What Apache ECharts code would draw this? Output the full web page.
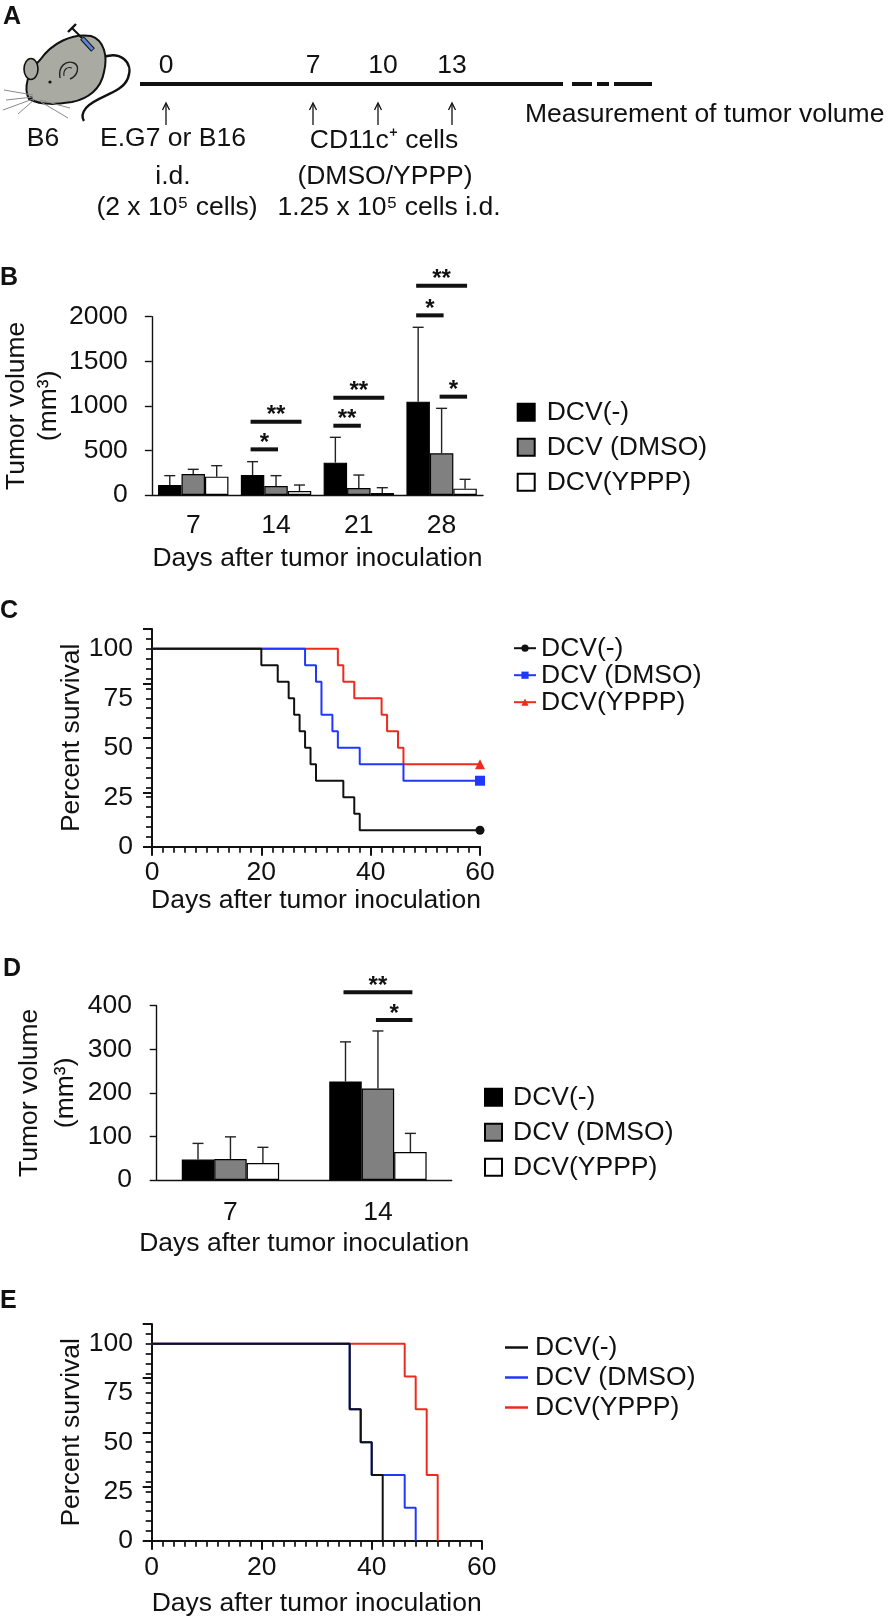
<!DOCTYPE html>
<html>
<head>
<meta charset="utf-8">
<script src="https://cdn.jsdelivr.net/npm/echarts@6/dist/echarts.min.js"></script>
<style>
html, body { margin: 0; padding: 0; background: #fff; }
#fig { width: 888px; height: 1618px; }
</style>
</head>
<body>
<div id="fig"></div>
<script>
// ---- data ----
// B: tumor volume (mm3), mean and SD per day
var bDays = ['7', '14', '21', '28'];
var bNeg = [112, 224, 363, 1047];
var bNegSd = [105, 150, 284, 834];
var bDmso = [236, 101, 79, 467];
var bDmsoSd = [52, 116, 145, 505];
var bYppp = [206, 45, 22, 71];
var bYpppSd = [123, 67, 60, 105];
// [category, bar from, bar to, height, mark]
var bSig = [[1, 0, 1, 512, '*'], [1, 0, 2, 822, '**'], [2, 0, 1, 777, '**'], [2, 0, 2, 1092, '**'],
            [3, 0, 1, 2015, '*'], [3, 0, 2, 2348, '**'], [3, 1, 2, 1103, '*']];

// C: survival (%) after each day
var cNegDays = [0, 20, 23, 25, 26, 27, 28, 29, 30, 35, 37, 38, 60];
var cNegSurv = [100, 91.67, 83.33, 75, 66.67, 58.33, 50, 41.67, 33.33, 25, 16.67, 8.33, 8.33];
var cDmsoDays = [0, 28, 30, 31, 33, 34, 38, 46, 60];
var cDmsoSurv = [100, 91.67, 83.33, 66.67, 58.33, 50, 41.67, 33.33, 33.33];
var cYpppDays = [0, 34, 35, 37, 42, 43, 45, 46, 60];
var cYpppSurv = [100, 91.67, 83.33, 75, 66.67, 58.33, 50, 41.67, 41.67];

// D
var dDays = ['7', '14'];
var dNeg = [47, 226];
var dNegSd = [37, 91];
var dDmso = [48, 210];
var dDmsoSd = [51, 132];
var dYppp = [39, 64];
var dYpppSd = [36, 43];
var dSig = [[1, 0, 2, 431, '**'], [1, 1, 2, 367, '*']];

// E
var eNegDays = [0, 36, 38, 40, 42];
var eNegSurv = [100, 66.67, 50, 33.33, 0];
var eDmsoDays = [0, 36, 38, 40, 46, 48];
var eDmsoSurv = [100, 66.67, 50, 33.33, 16.67, 0];
var eYpppDays = [0, 46, 48, 50, 52];
var eYpppSurv = [100, 83.33, 66.67, 33.33, 0];

// survival axes: labelled ticks
var dayLabels = [0, 20, 40, 60];
var survLabels = [0, 25, 50, 75, 100];

var names = ['DCV(-)', 'DCV (DMSO)', 'DCV(YPPP)'];

// ---- helpers ----
var FONT = '"Liberation Sans", Arial, sans-serif';
var FS = 26.5;
var INK = '#111';

function barCenter(band, gap, k) {
    var total = band * (1 - gap);
    return -total / 2 + (total / 3) * (k + 0.5);
}

function pairs(xs, ys) {
    return xs.map(function (x, i) { return [x, ys[i]]; });
}

function errorSeries(idx, means, sds, k, gap) {
    return {
        type: 'custom', xAxisIndex: idx, yAxisIndex: idx, z: 3, silent: true,
        data: means.map(function (m, i) { return [i, m, m + sds[i]]; }),
        encode: { x: 0, y: 1 },
        renderItem: function (params, api) {
            var band = api.size([1, 0])[0];
            var base = api.coord([api.value(0), api.value(1)]);
            var top = api.coord([api.value(0), api.value(2)]);
            var x = base[0] + barCenter(band, gap, k);
            var st = { stroke: '#222', lineWidth: 1.4 };
            return { type: 'group', children: [
                { type: 'line', shape: { x1: x, y1: base[1], x2: x, y2: top[1] }, style: st },
                { type: 'line', shape: { x1: x - 5.5, y1: top[1], x2: x + 5.5, y2: top[1] }, style: st }
            ] };
        }
    };
}

function sigSeries(idx, list, gap) {
    return {
        type: 'custom', xAxisIndex: idx, yAxisIndex: idx, z: 4, silent: true,
        data: list.map(function (s) { return [s[0], s[3]]; }),
        encode: { x: 0, y: 1 },
        renderItem: function (params, api) {
            var s = list[params.dataIndex];
            var band = api.size([1, 0])[0];
            var c = api.coord([s[0], s[3]]);
            var x1 = c[0] + barCenter(band, gap, s[1]) - 2;
            var x2 = c[0] + barCenter(band, gap, s[2]) + 2;
            return { type: 'group', children: [
                { type: 'line', shape: { x1: x1, y1: c[1], x2: x2, y2: c[1] }, style: { stroke: INK, lineWidth: 4 } },
                { type: 'text', x: (x1 + x2) / 2, y: c[1] - 6,
                  style: { text: s[4], fontFamily: FONT, fontSize: 24, fontWeight: 'bold', fill: INK, align: 'center', verticalAlign: 'middle' } }
            ] };
        }
    };
}

function barSeries(idx, tag, vals, gap) {
    var fills = ['#000', '#808080', '#fff'];
    return vals.map(function (v, k) {
        return {
            name: names[k] + '#' + tag, type: 'bar', xAxisIndex: idx, yAxisIndex: idx,
            barGap: '0%', barCategoryGap: (gap * 100) + '%', data: v,
            itemStyle: { color: fills[k], borderColor: '#000', borderWidth: 1.2 }
        };
    });
}

function kmSeries(idx, tag, k, days, surv, color, symbol, size) {
    var last = days.length - 1;
    return {
        name: names[k] + '#' + tag, type: 'line', xAxisIndex: idx, yAxisIndex: idx,
        step: 'end', symbol: symbol, symbolSize: size,
        lineStyle: { color: color, width: 2 }, itemStyle: { color: color },
        data: pairs(days, surv).map(function (p, i) {
            return (symbol !== 'none' && i === last) ? { value: p } : { value: p, symbol: 'none' };
        })
    };
}

var plain = function (v) { return String(v); };
function only(list) {
    return function (v) { return list.indexOf(v) >= 0 ? String(v) : ''; };
}

function catX(idx, data, margin, gap) {
    return {
        type: 'category', gridIndex: idx, data: data,
        axisLine: { onZero: false, lineStyle: { color: INK, width: 1.4 } },
        axisTick: { length: 8, lineStyle: { color: INK, width: 1.4 } },
        axisLabel: { margin: margin, color: INK, fontFamily: FONT, fontSize: FS },
        name: 'Days after tumor inoculation', nameLocation: 'middle', nameGap: gap,
        nameTextStyle: { color: INK, fontFamily: FONT, fontSize: FS }
    };
}

function volY(idx, max, interval, margin, gap, lh) {
    return {
        type: 'value', gridIndex: idx, min: 0, max: max, interval: interval,
        axisLine: { show: true, lineStyle: { color: INK, width: 1.4 } },
        axisTick: { show: true, length: 7, lineStyle: { color: INK, width: 1.4 } },
        splitLine: { show: false },
        axisLabel: { margin: margin, color: INK, fontFamily: FONT, fontSize: FS, formatter: plain },
        name: 'Tumor volume\n(mm³)', nameLocation: 'middle', nameRotate: 90, nameGap: gap,
        nameTextStyle: { color: INK, fontFamily: FONT, fontSize: FS, lineHeight: lh }
    };
}

// small ticks every 2 days, labels only at dayLabels
function dayX(idx, margin, gap) {
    return {
        type: 'value', gridIndex: idx, min: 0, max: 60, interval: 2,
        axisLine: { onZero: false, lineStyle: { color: INK, width: 2 } },
        axisTick: { show: true, length: 6, lineStyle: { color: INK, width: 1.7 } },
        splitLine: { show: false },
        axisLabel: { margin: margin, color: INK, fontFamily: FONT, fontSize: FS, formatter: only(dayLabels) },
        name: 'Days after tumor inoculation', nameLocation: 'middle', nameGap: gap,
        nameTextStyle: { color: INK, fontFamily: FONT, fontSize: FS }
    };
}

// small ticks every 5 %, labels only at survLabels
function survY(idx, margin, gap) {
    return {
        type: 'value', gridIndex: idx, min: 0, max: 110, interval: 5,
        axisLine: { show: true, lineStyle: { color: INK, width: 2 } },
        axisTick: { show: true, length: 6, lineStyle: { color: INK, width: 1.7 } },
        splitLine: { show: false },
        axisLabel: { margin: margin, color: INK, fontFamily: FONT, fontSize: FS, formatter: only(survLabels) },
        name: 'Percent survival', nameLocation: 'middle', nameRotate: 90, nameGap: gap,
        nameTextStyle: { color: INK, fontFamily: FONT, fontSize: FS, lineHeight: 27 }
    };
}

// tick-only axes giving the longer ticks at the labelled values
function majorAxis(idx, max, step, pos) {
    return {
        type: 'value', gridIndex: idx, min: 0, max: max, interval: step, position: pos,
        axisLine: { show: false, onZero: false },
        axisTick: { show: true, length: 9, lineStyle: { color: INK, width: 2 } },
        axisLabel: { show: false }, splitLine: { show: false }
    };
}

function legendFor(tag, left, top, opts) {
    var l = {
        left: left, top: top, orient: 'vertical', selectedMode: false,
        data: names.map(function (n) { return n + '#' + tag; }),
        formatter: function (n) { return n.split('#')[0]; },
        textStyle: { color: INK, fontFamily: FONT, fontSize: FS, lineHeight: 26 }
    };
    for (var key in opts) {
        if (key === 'textStyle') { Object.assign(l.textStyle, opts.textStyle); } else { l[key] = opts[key]; }
    }
    return l;
}

function txt(x, y, s, extra) {
    var style = { text: s, fontFamily: FONT, fontSize: FS, fill: INK, align: 'center', verticalAlign: 'middle' };
    Object.assign(style, extra || {});
    return { type: 'text', x: x, y: y, style: style, silent: true };
}

function seg(x1, y1, x2, y2, w, color) {
    return { type: 'line', shape: { x1: x1, y1: y1, x2: x2, y2: y2 }, style: { stroke: color || INK, lineWidth: w }, silent: true };
}

function arrow(x) {
    return { type: 'group', silent: true, children: [
        seg(x, 125, x, 104, 1.3),
        { type: 'polyline', shape: { points: [[x - 3.5, 110], [x, 103], [x + 3.5, 110]] }, style: { stroke: INK, lineWidth: 1.3, fill: null } }
    ] };
}

var letter = { fontWeight: 'bold', fontSize: 25, align: 'left', verticalAlign: 'top' };

// mouse sketch for panel A (custom series so that path shapes are available)
var mouseSeries = {
    type: 'custom', coordinateSystem: 'none', silent: true, data: [[0]],
    renderItem: function () {
        return { type: 'group', children: [
            { type: 'path', shape: { pathData: 'M101,58 C120,50 134,62 128,78 C122,94 96,96 86,108 C82,113 82,118 84,121' },
              style: { stroke: '#111', lineWidth: 2.4, fill: 'none' } },
            { type: 'path', shape: { pathData: 'M29,99 C23,88 28,71 40,60 C52,43 72,33 91,36 C104,40 108,56 104,72 C101,89 88,99 72,102 C58,104 43,106 29,99 Z' },
              style: { fill: '#a9aba3', stroke: '#111', lineWidth: 2 } },
            { type: 'ellipse', shape: { cx: 31, cy: 69, rx: 7, ry: 10.5 }, style: { fill: '#a9aba3', stroke: '#111', lineWidth: 1.6 } },
            { type: 'path', shape: { pathData: 'M60,78 C58,66 66,60 74,63 C80,66 78,76 70,79' }, style: { stroke: '#222', lineWidth: 1.4, fill: 'none' } },
            { type: 'path', shape: { pathData: 'M64,76 C63,70 67,66 72,68' }, style: { stroke: '#222', lineWidth: 1.1, fill: 'none' } },
            { type: 'circle', shape: { cx: 50, cy: 82, r: 1.6 }, style: { fill: '#111' } },
            { type: 'circle', shape: { cx: 31, cy: 98, r: 1.8 }, style: { fill: '#111' } },
            { type: 'path', shape: { pathData: 'M33,95 L4,90 M33,97 L6,100 M33,99 L3,110 M35,99 L18,114 M40,100 L70,108 M41,102 L68,118' },
              style: { stroke: '#8a8a8a', lineWidth: 1, fill: 'none' } },
            { type: 'line', shape: { x1: 82, y1: 38, x2: 93, y2: 50 }, style: { stroke: '#111', lineWidth: 5 } },
            { type: 'line', shape: { x1: 82.5, y1: 38.5, x2: 92.5, y2: 49.5 }, style: { stroke: '#5b86d6', lineWidth: 3 } },
            { type: 'line', shape: { x1: 72, y1: 28, x2: 82, y2: 38 }, style: { stroke: '#111', lineWidth: 2 } },
            { type: 'line', shape: { x1: 68, y1: 32, x2: 76, y2: 24 }, style: { stroke: '#111', lineWidth: 2.4 } }
        ] };
    }
};

var graphics = [
    txt(3, 5, 'A', letter),
    seg(140, 84, 563, 84, 4),
    seg(572, 84, 592, 84, 4),
    seg(597, 84, 609, 84, 4),
    seg(614, 84, 652, 84, 4),
    txt(166, 66, '0'), txt(313, 66, '7'), txt(383, 66, '10'), txt(452, 66, '13'),
    arrow(166), arrow(313), arrow(378), arrow(452),
    txt(525, 115, 'Measurement of tumor volume', { align: 'left' }),
    txt(43, 139, 'B6'),
    txt(173, 139, 'E.G7 or B16'),
    txt(173, 177, 'i.d.'),
    txt(177, 208, '(2 x 10⁵ cells)'),
    txt(384, 141, 'CD11c⁺ cells'),
    txt(385, 177, '(DMSO/YPPP)'),
    txt(389, 208, '1.25 x 10⁵ cells i.d.'),
    txt(0, 266, 'B', letter),
    txt(0, 599, 'C', letter),
    txt(3, 957, 'D', letter),
    txt(0, 1289, 'E', letter)
];

var bGap = 0.15, dGap = 0.34;

var series = [].concat(
    [mouseSeries],
    barSeries(0, 'B', [bNeg, bDmso, bYppp], bGap),
    [errorSeries(0, bNeg, bNegSd, 0, bGap), errorSeries(0, bDmso, bDmsoSd, 1, bGap), errorSeries(0, bYppp, bYpppSd, 2, bGap),
     sigSeries(0, bSig, bGap)],
    [kmSeries(1, 'C', 2, cYpppDays, cYpppSurv, '#ec2b1e', 'triangle', 10),
     kmSeries(1, 'C', 1, cDmsoDays, cDmsoSurv, '#2137fb', 'rect', 10),
     kmSeries(1, 'C', 0, cNegDays, cNegSurv, '#111', 'circle', 9)],
    barSeries(2, 'D', [dNeg, dDmso, dYppp], dGap),
    [errorSeries(2, dNeg, dNegSd, 0, dGap), errorSeries(2, dDmso, dDmsoSd, 1, dGap), errorSeries(2, dYppp, dYpppSd, 2, dGap),
     sigSeries(2, dSig, dGap)],
    [kmSeries(3, 'E', 2, eYpppDays, eYpppSurv, '#ec2b1e', 'none', 0),
     kmSeries(3, 'E', 1, eDmsoDays, eDmsoSurv, '#2137fb', 'none', 0),
     kmSeries(3, 'E', 0, eNegDays, eNegSurv, '#111', 'none', 0)]
);

var chart = echarts.init(document.getElementById('fig'), null, { renderer: 'canvas' });
chart.setOption({
    animation: false,
    backgroundColor: '#fff',
    grid: [
        { left: 150, top: 316.7, width: 333, height: 178.3 },
        { left: 152, top: 629, width: 328, height: 217.7 },
        { left: 156.7, top: 1005.7, width: 295, height: 174.3 },
        { left: 151.7, top: 1324, width: 330, height: 216.7 }
    ],
    xAxis: [catX(0, bDays, 17, 50), dayX(1, 12, 40), catX(2, dDays, 19, 50), dayX(3, 13, 49),
            majorAxis(1, 60, 20, 'bottom'), majorAxis(3, 60, 20, 'bottom')],
    yAxis: [volY(0, 2000, 500, 24, 83, 32), survY(1, 19, 65.5), volY(2, 400, 100, 24.7, 66.7, 36), survY(3, 18.7, 66),
            majorAxis(1, 100, 25, 'left'), majorAxis(3, 100, 25, 'left')],
    legend: [
        legendFor('B', 511.7, 393.7, { icon: 'rect', itemWidth: 17, itemHeight: 17, itemGap: 8, textStyle: { padding: [0, 0, 0, 7] } }),
        legendFor('C', 508, 629.7, { itemWidth: 22, itemHeight: 9, itemGap: 0, textStyle: { lineHeight: 24 } }),
        legendFor('D', 479, 1078.7, { icon: 'rect', itemWidth: 17, itemHeight: 17, itemGap: 8, textStyle: { padding: [0, 0, 0, 6] } }),
        legendFor('E', 500, 1329, { icon: 'rect', itemWidth: 23, itemHeight: 2.5, itemGap: 3, textStyle: { padding: [0, 0, 0, 2] } })
    ],
    graphic: graphics,
    series: series
});
</script>
</body>
</html>
